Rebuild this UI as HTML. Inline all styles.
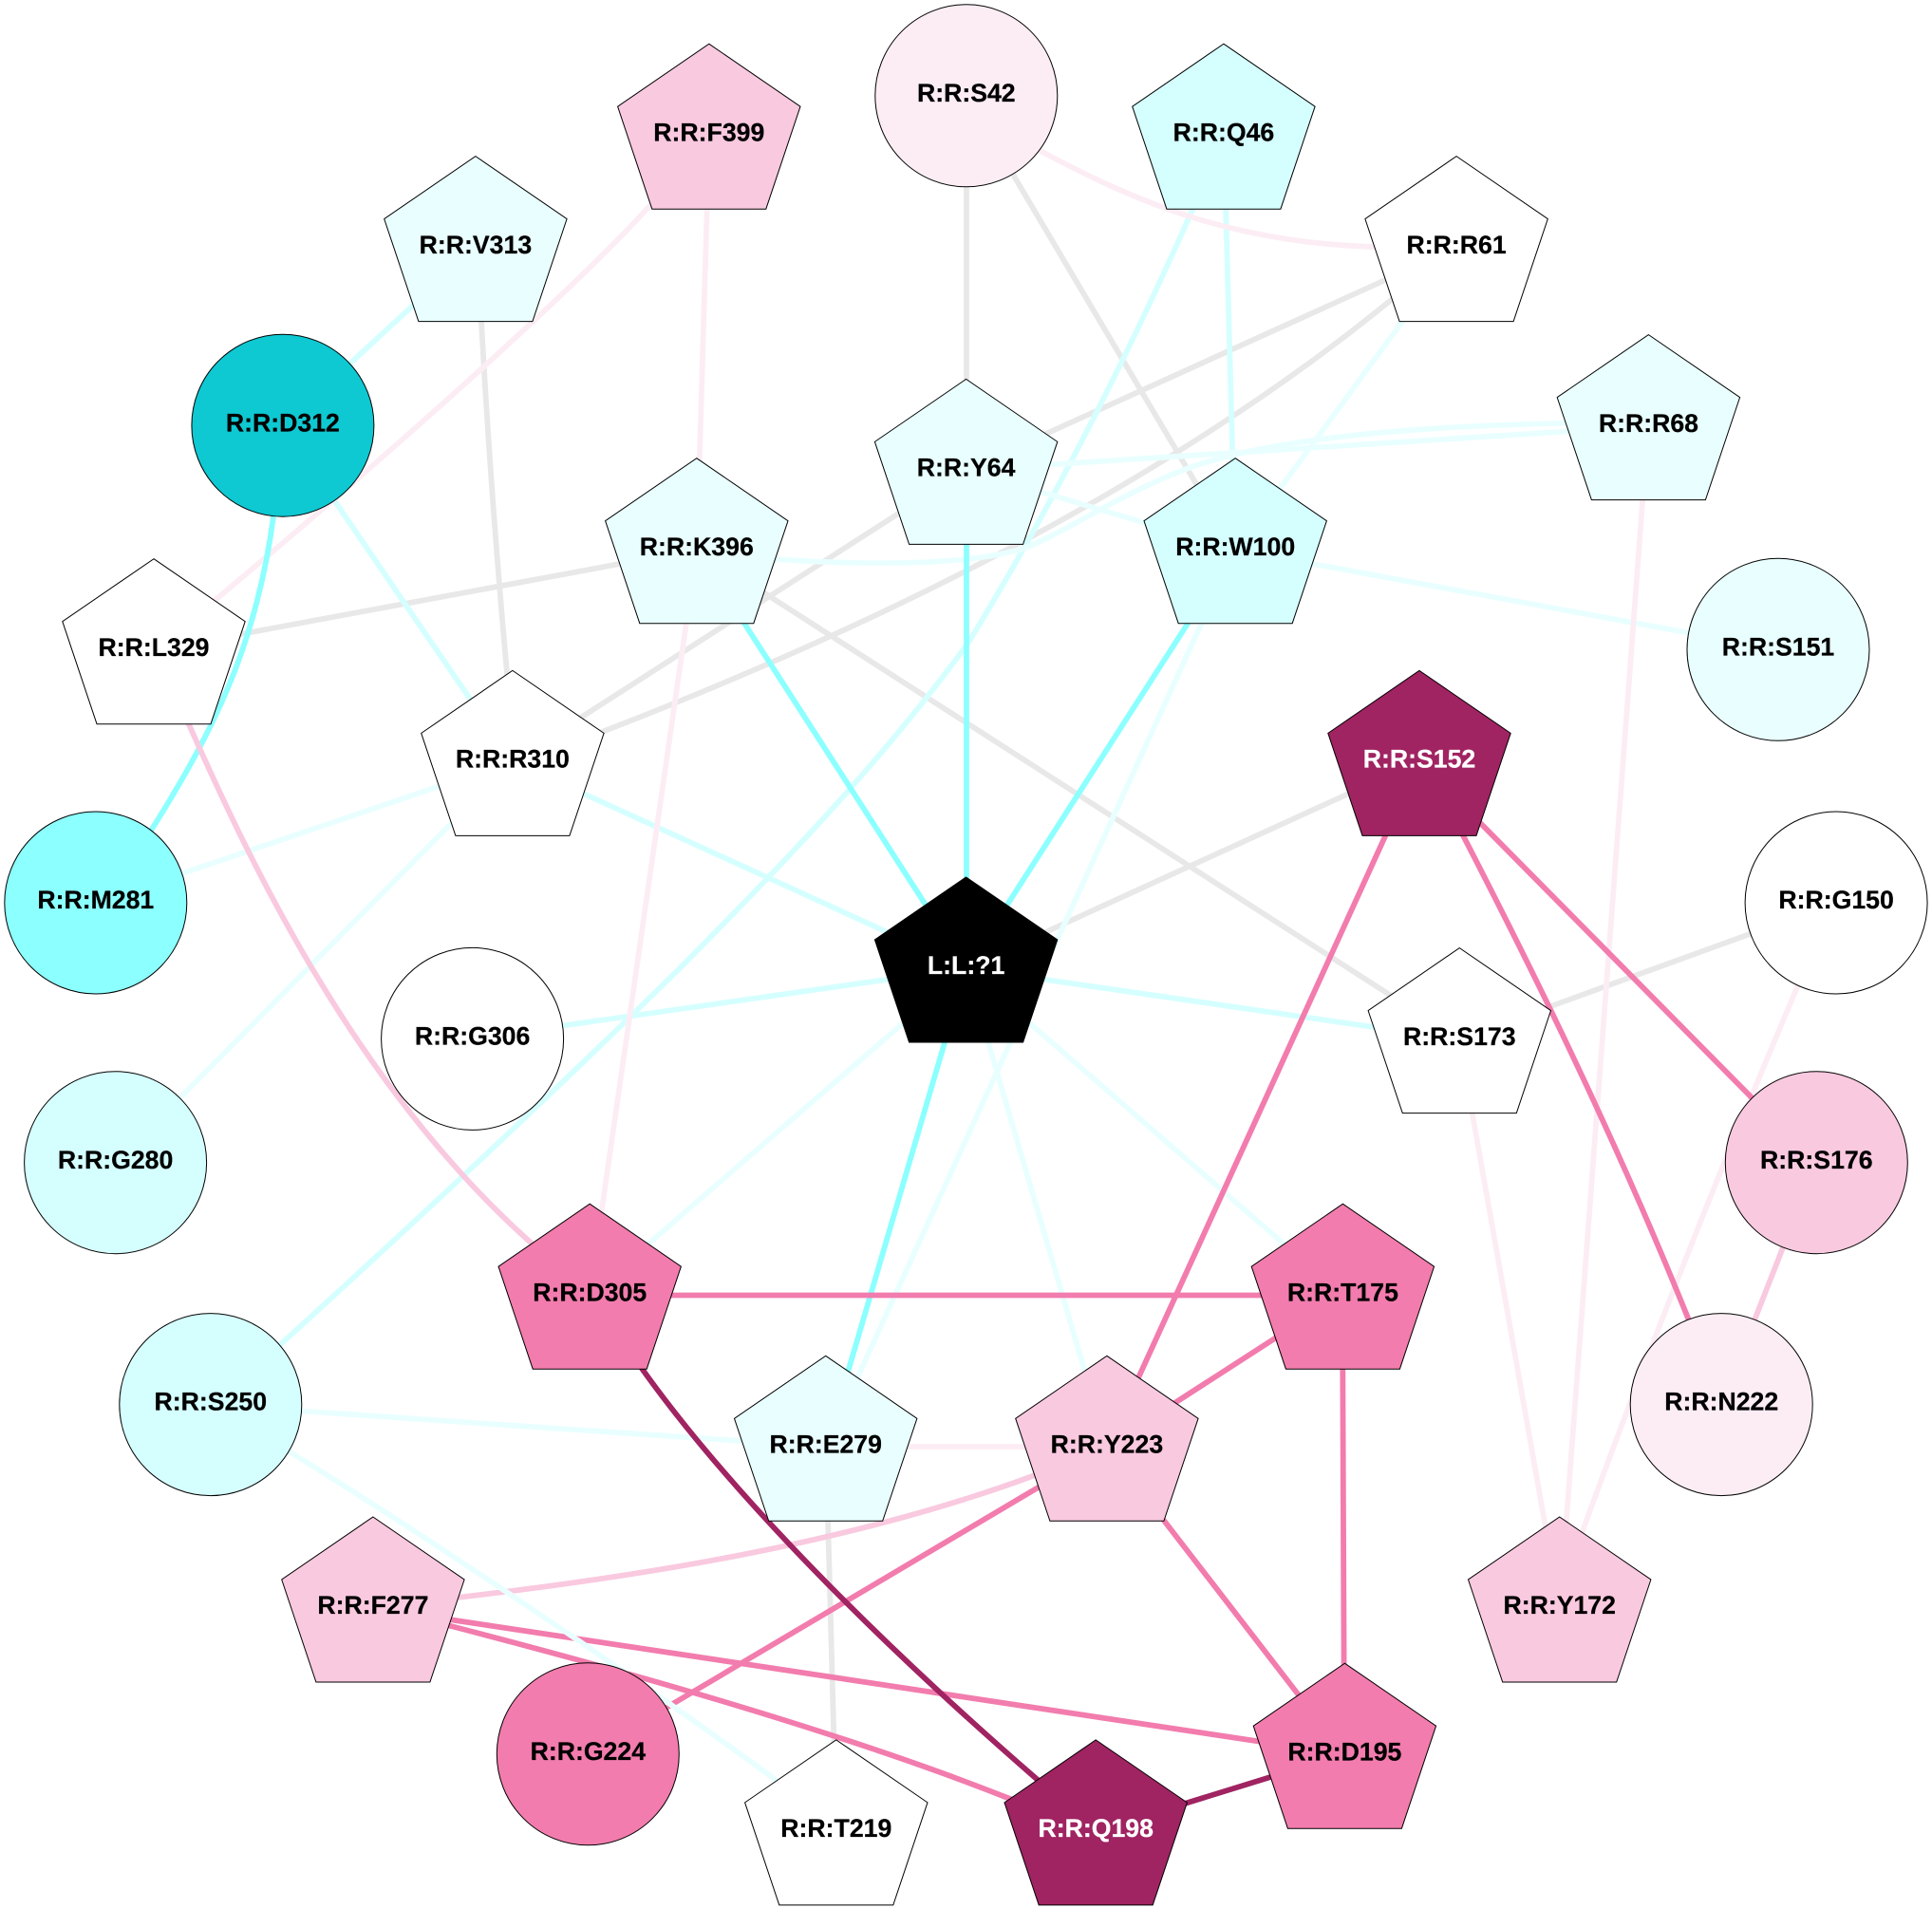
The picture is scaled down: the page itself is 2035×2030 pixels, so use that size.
<!DOCTYPE html>
<html><head><meta charset="utf-8"><style>
html,body{margin:0;padding:0;background:#fff}
svg{display:block}
text{font-family:"Liberation Sans",sans-serif;font-weight:bold;font-size:26.67px;text-anchor:middle;fill:#000;stroke:#000;stroke-width:.25;transform:translateY(-1.2px)}
text.w{fill:#fff;stroke:#fff}
.e path{fill:none;stroke-width:5.8}
.g path{stroke:#e8e8e8}.c1 path{stroke:#e9ffff}.c2 path{stroke:#d5ffff}.c3 path{stroke:#8cffff}
.p1 path{stroke:#fcedf4}.p2 path{stroke:#f9c9df}.p3 path{stroke:#f27cad}.p4 path{stroke:#a02362}
circle,use{stroke:#000;stroke-width:1}
</style></head><body>
<svg width="2035" height="2030" viewBox="0 0 2035 2030" xmlns="http://www.w3.org/2000/svg">
<defs><polygon id="p" points="0,0 96.2,66 60,174 -60,174 -96.2,66"/></defs>
<rect width="2035" height="2030" fill="#fff"/>
<g class="e g">
<path d="M1018 101V495"/><path d="M1018 101L1301 579"/><path d="M505 300Q515 500 535 720"/>
<path d="M1534 261L1018 495"/><path d="M1534 261L1464 317C1270 475 1000 630 634 771L540 802"/>
<path d="M734 579L162 685"/><path d="M1018 495L540 802"/><path d="M734 579L1537 1095"/>
<path d="M1495 802L1018 1020"/><path d="M1934 951L1537 1095"/><path d="M870 1524L881 1929"/>
</g>
<g class="e c2">
<path d="M501 261L298 448"/><path d="M298 448L540 802"/>
<path d="M1289 142L1256 221C1190 370 1110 530 1020 677C930 800 830 905 716 1020C640 1095 500 1230 299 1413L222 1480"/>
<path d="M1289 142L1301 579"/><path d="M498 1094L1018 1020"/><path d="M1018 1020L1537 1095"/><path d="M540 802L1018 1020"/>
</g>
<g class="e c1">
<path d="M734 579L816 589C900 595 1020 597 1080 577C1120 562 1180 520 1252 493C1330 465 1480 445 1736 445"/>
<path d="M1018 495L1736 449"/><path d="M1534 261L1301 579"/><path d="M1301 579L870 1524"/><path d="M1018 495L1301 579"/>
<path d="M1301 579L1873 684"/><path d="M540 802L101 951"/><path d="M540 802L122 1225"/><path d="M1018 1020L621 1364"/>
<path d="M1018 1020L1414 1364"/><path d="M1018 1020L1166 1524"/><path d="M222 1480L870 1524"/>
</g>
<g class="e p1">
<path d="M1018 101L1096 159C1200 215 1300 255 1444 260L1534 261"/><path d="M747 142L734 579"/>
<path d="M747 142L686 215C610 300 420 470 228 631L162 685"/><path d="M734 579L621 1364"/>
<path d="M1736 449L1643 1694"/><path d="M1537 1095L1643 1694"/><path d="M1934 951L1893 1040C1855 1130 1770 1330 1668 1610L1643 1694"/><path d="M870 1524L1166 1524"/>
</g>
<g class="e c3">
<path d="M734 579L1018 1020"/><path d="M1018 495V1020"/><path d="M1301 579L1018 1020"/><path d="M870 1524L1018 1020"/>
<path d="M298 448L288 544C270 680 225 770 159 875L101 951"/>
</g>
<g class="e p2">
<path d="M162 685L198 761C260 900 370 1140 559 1309L621 1364"/><path d="M1913 1225L1813 1480"/>
<path d="M393 1694L481 1683C680 1660 900 1625 1093 1553L1166 1524"/>
</g>
<g class="e p3">
<path d="M1495 802L1166 1524"/><path d="M1495 802L1541 880C1590 975 1690 1170 1779 1391L1813 1480"/>
<path d="M1495 802L1913 1225"/><path d="M621 1364.500L1414 1364.500"/><path d="M1414 1364L1416 1848"/>
<path d="M1414 1364L1166 1524"/><path d="M1166 1524L1416 1848"/><path d="M1166 1524L619 1848"/>
<path d="M393 1694L1416 1848"/><path d="M393 1694L475 1713Q850 1810 1064 1895L1154 1929"/>
</g>
<g class="e p4">
<path d="M621 1364L677 1443C750 1545 880 1690 1093 1875L1154 1929"/><path d="M1154 1929L1416 1848"/>
</g>
<g class="e c1"><path d="M222 1480L306 1530C420 1600 640 1745 817 1875L881 1925"/></g>

<use href="#p" transform="translate(746.800 46.200)" fill="#f9c9df"/><text x="746.800" y="149.600">R:R:F399</text>
<use href="#p" transform="translate(500.900 164.600)" fill="#e9ffff"/><text x="500.900" y="268">R:R:V313</text>
<use href="#p" transform="translate(733.800 482.700)" fill="#e9ffff"/><text x="733.800" y="586">R:R:K396</text>
<use href="#p" transform="translate(1017.600 399.400)" fill="#e9ffff"/><text x="1017.600" y="502.800">R:R:Y64</text>
<use href="#p" transform="translate(162 588.700)" fill="#fff"/><text x="162" y="692">R:R:L329</text>
<use href="#p" transform="translate(539.900 706.400)" fill="#fff"/><text x="539.900" y="809.800">R:R:R310</text>
<use href="#p" transform="translate(1288.900 46.200)" fill="#d5ffff"/><text x="1288.900" y="149.600">R:R:Q46</text>
<use href="#p" transform="translate(1534.100 164.600)" fill="#fff"/><text x="1534.100" y="268">R:R:R61</text>
<use href="#p" transform="translate(1736.400 352.600)" fill="#e9ffff"/><text x="1736.400" y="456">R:R:R68</text>
<use href="#p" transform="translate(1301.200 482.700)" fill="#d5ffff"/><text x="1301.200" y="586">R:R:W100</text>
<use href="#p" transform="translate(1495 706.400)" fill="#a02362"/><text class="w" x="1495" y="809.800">R:R:S152</text>
<use href="#p" transform="translate(1017.600 924)" fill="#000"/><text class="w" x="1017.600" y="1027.400">L:L:?1</text>
<use href="#p" transform="translate(1537.300 998.600)" fill="#fff"/><text x="1537.300" y="1102">R:R:S173</text>
<use href="#p" transform="translate(621.200 1268.200)" fill="#f27cad"/><text x="621.200" y="1371.600">R:R:D305</text>
<use href="#p" transform="translate(1414.400 1268.200)" fill="#f27cad"/><text x="1414.400" y="1371.600">R:R:T175</text>
<use href="#p" transform="translate(869.700 1428.300)" fill="#e9ffff"/><text x="869.700" y="1531.700">R:R:E279</text>
<use href="#p" transform="translate(1165.900 1428.300)" fill="#f9c9df"/><text x="1165.900" y="1531.700">R:R:Y223</text>
<use href="#p" transform="translate(392.900 1598)" fill="#f9c9df"/><text x="392.900" y="1701.400">R:R:F277</text>
<use href="#p" transform="translate(1642.700 1598)" fill="#f9c9df"/><text x="1642.700" y="1701.400">R:R:Y172</text>
<use href="#p" transform="translate(1416.400 1752.200)" fill="#f27cad"/><text x="1416.400" y="1855.600">R:R:D195</text>
<use href="#p" transform="translate(880.800 1832.900)" fill="#fff"/><text x="880.800" y="1936.300">R:R:T219</text>
<use href="#p" transform="translate(1154.200 1832.900)" fill="#a02362"/><text class="w" x="1154.200" y="1936.300">R:R:Q198</text>

<circle cx="1017.800" cy="100.800" r="96" fill="#fcedf4"/><text x="1017.800" y="108">R:R:S42</text>
<circle cx="297.900" cy="448.200" r="96" fill="#0ec8d2"/><text x="297.900" y="455.500">R:R:D312</text>
<circle cx="100.800" cy="951" r="96" fill="#8cffff"/><text x="100.800" y="958.300">R:R:M281</text>
<circle cx="497.600" cy="1094.400" r="96" fill="#fff"/><text x="497.600" y="1101.700">R:R:G306</text>
<circle cx="121.600" cy="1224.700" r="96" fill="#d5ffff"/><text x="121.600" y="1232">R:R:G280</text>
<circle cx="221.800" cy="1479.600" r="96" fill="#d5ffff"/><text x="221.800" y="1486.900">R:R:S250</text>
<circle cx="619.300" cy="1847.800" r="96" fill="#f27cad"/><text x="619.300" y="1855.100">R:R:G224</text>
<circle cx="1873" cy="684.300" r="96" fill="#e9ffff"/><text x="1873" y="691.600">R:R:S151</text>
<circle cx="1934.100" cy="951" r="96" fill="#fff"/><text x="1934.100" y="958.300">R:R:G150</text>
<circle cx="1913.300" cy="1224.700" r="96" fill="#f9c9df"/><text x="1913.300" y="1232">R:R:S176</text>
<circle cx="1813.200" cy="1479.600" r="96" fill="#fcedf4"/><text x="1813.200" y="1486.900">R:R:N222</text>
</svg>
</body></html>
